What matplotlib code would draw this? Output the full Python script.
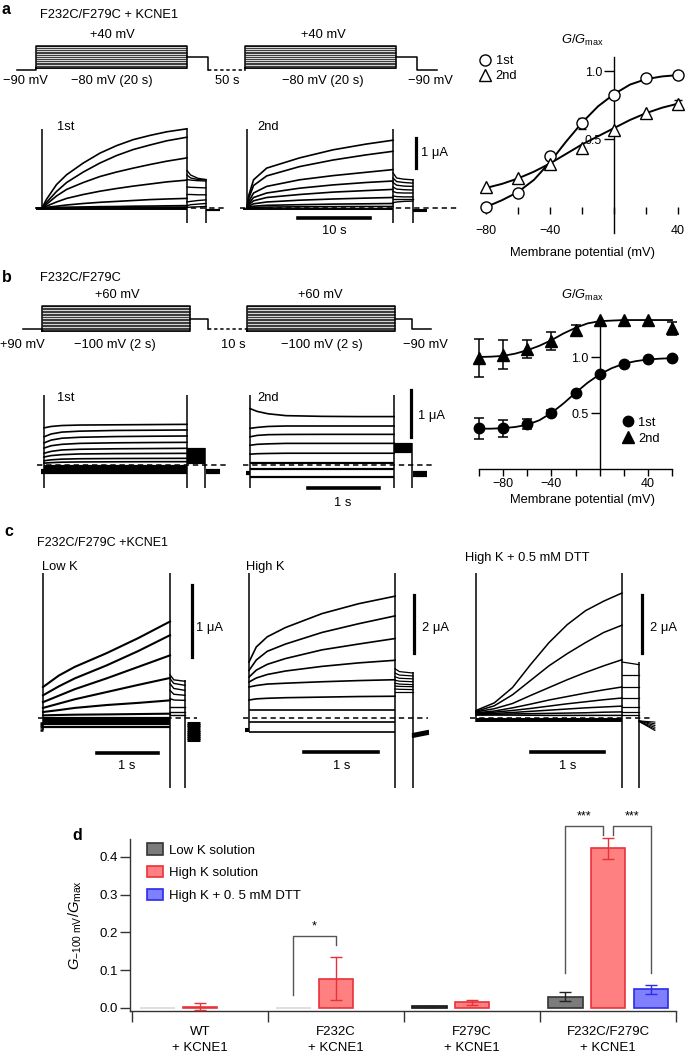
import numpy as np
import matplotlib
matplotlib.use("Agg")
import matplotlib.pyplot as plt
from matplotlib.lines import Line2D
from matplotlib.patches import Patch

plt.rcParams['font.family'] = ['Liberation Sans', 'DejaVu Sans']
plt.rcParams['mathtext.fontset'] = 'custom'
plt.rcParams['mathtext.rm'] = 'Liberation Sans'
plt.rcParams['mathtext.it'] = 'Liberation Sans:italic'
plt.rcParams['mathtext.bf'] = 'Liberation Sans:bold'
plt.rcParams['font.size'] = 9.3
plt.rcParams['axes.linewidth'] = 1.0

# ---------------- data ----------------
# voltage protocols (mV) and schematic segment times
prot_a_levels = [-80, -70, -60, -50, -40, -30, -20, -10, 0, 10, 20, 30, 40]
prot_a_hold, prot_a_tail = -90, -20
prot_a_times = [-2.5, 0, 20, 22.8, 27.7, 47.7, 50.5, 53.1]
prot_b_levels = [-100, -90, -80, -70, -60, -50, -40, -30, -20, -10, 0, 10, 20, 30, 40, 50, 60]
prot_b_hold, prot_b_tail = -90, -20
prot_b_times = [-0.25, 0, 2, 2.24, 2.77, 4.77, 5.0, 5.26]

# panel a currents (uA vs s)
ta1_t = [0, 0.6, 2, 3.4, 5.7, 8, 10.3, 12.6, 14.9, 17.2, 20]
ta1 = [
    [0, 0.28, 0.78, 1.11, 1.50, 1.83, 2.08, 2.28, 2.42, 2.54, 2.64],
    [0, 0.18, 0.55, 0.85, 1.20, 1.50, 1.75, 1.95, 2.10, 2.24, 2.36],
    [0, 0.12, 0.40, 0.62, 0.85, 1.05, 1.20, 1.33, 1.45, 1.56, 1.67],
    [0, 0.06, 0.20, 0.32, 0.45, 0.56, 0.65, 0.73, 0.80, 0.87, 0.93],
    [0, 0.02, 0.06, 0.10, 0.15, 0.19, 0.22, 0.25, 0.28, 0.30, 0.32],
    [0, 0.01, 0.02, 0.025, 0.035, 0.045, 0.05, 0.06, 0.065, 0.072, 0.08],
    [0, 0.0, 0.005, 0.01, 0.012, 0.015, 0.018, 0.02, 0.024, 0.027, 0.03],
]
ta1_flat = [-0.01, -0.03]
ta1_tail_t = [20, 20.5, 21.5, 22.6]
ta1_tail = [[1.25, 1.10, 0.99, 0.95], [1.10, 1.00, 0.95, 0.93], [0.95, 0.93, 0.91, 0.90],
            [0.70, 0.69, 0.68, 0.67], [0.45, 0.45, 0.44, 0.44], [0.20, 0.22, 0.25, 0.27],
            [0.08, 0.11, 0.13, 0.15], [0.02, 0.03, 0.04, 0.05]]
ta1_post = [-0.05, -0.08]
ta1_cap = ([0, 20, 22.6], [0, -0.5, -0.5], [2.63, 2.63, 0.97])

ta2_t = [0, 0.2, 0.9, 2.7, 7.2, 11.8, 16.3, 20]
ta2 = [
    [0, 0.39, 0.94, 1.33, 1.67, 1.94, 2.13, 2.26],
    [0, 0.30, 0.75, 1.07, 1.38, 1.60, 1.77, 1.89],
    [0, 0.20, 0.50, 0.72, 0.94, 1.08, 1.19, 1.28],
    [0, 0.14, 0.35, 0.50, 0.66, 0.77, 0.85, 0.90],
    [0, 0.10, 0.24, 0.35, 0.45, 0.53, 0.58, 0.62],
    [0, 0.06, 0.14, 0.20, 0.26, 0.30, 0.33, 0.35],
    [0, 0.03, 0.06, 0.09, 0.11, 0.13, 0.14, 0.15],
    [0, 0.01, 0.02, 0.03, 0.04, 0.045, 0.05, 0.05],
]
ta2_flat = [-0.02]
ta2_tail_t = [20, 20.5, 21.5, 22.7]
ta2_tail = [[1.17, 1.00, 0.96, 0.94], [1.00, 0.88, 0.85, 0.83], [0.85, 0.76, 0.73, 0.72],
            [0.70, 0.63, 0.61, 0.60], [0.55, 0.51, 0.50, 0.50], [0.40, 0.38, 0.37, 0.37],
            [0.30, 0.30, 0.30, 0.30], [0.18, 0.20, 0.22, 0.23]]
ta2_post = [-0.06, -0.10]
ta2_cap = ([0, 20, 22.7], [0, -0.5, -0.5], [2.63, 2.63, 0.97])

# panel a G/Gmax
ga_v = [-80, -60, -40, -20, 0, 20, 40]
ga_1st = [0.0, 0.105, 0.377, 0.615, 0.82, 0.95, 0.968]
ga_1st_err = [0, 0, 0.03, 0.04, 0, 0, 0]
ga_2nd = [0.15, 0.215, 0.316, 0.436, 0.566, 0.693, 0.755]
ga_2nd_err = [0, 0, 0, 0, 0, 0, 0.035]
ga_fit_v = [-80, -70, -60, -50, -40, -30, -20, -10, 0, 10, 20, 30, 40]
ga_fit_1st = [0.0, 0.05, 0.11, 0.20, 0.33, 0.48, 0.62, 0.74, 0.83, 0.90, 0.94, 0.96, 0.97]
ga_fit_2nd = [0.14, 0.17, 0.21, 0.26, 0.32, 0.39, 0.46, 0.52, 0.58, 0.64, 0.69, 0.73, 0.76]

# panel b currents
tb_t = [0, 0.1, 0.25, 0.5, 1.0, 1.5, 2.0]
tb1 = [
    [0.79, 0.82, 0.84, 0.85, 0.855, 0.86, 0.865],
    [0.60, 0.66, 0.70, 0.72, 0.735, 0.74, 0.745],
    [0.47, 0.53, 0.57, 0.59, 0.605, 0.612, 0.617],
    [0.36, 0.41, 0.44, 0.46, 0.472, 0.478, 0.482],
    [0.25, 0.29, 0.32, 0.335, 0.345, 0.35, 0.355],
    [0.17, 0.20, 0.22, 0.235, 0.242, 0.245, 0.248],
    [0.09, 0.11, 0.125, 0.133, 0.138, 0.14, 0.142],
    [0.04, 0.05, 0.06, 0.065, 0.068, 0.07, 0.071],
]
tb1_flat = [-0.02, -0.05, -0.08, -0.11, -0.14, -0.17]
tb1_tail = [0.35, 0.32, 0.29, 0.26, 0.23, 0.20, 0.17, 0.14, 0.11, 0.08, 0.05]
tb1_post = [-0.11, -0.14, -0.17]
tb1_cap = ([0, 2, 2.25], [-0.49, -0.49, -0.49], [1.49, 1.49, 0.355])

tb2 = [
    [1.20, 1.14, 1.09, 1.05, 1.035, 1.03, 1.03],
    [0.78, 0.80, 0.82, 0.83, 0.83, 0.83, 0.83],
    [0.60, 0.63, 0.645, 0.65, 0.652, 0.652, 0.652],
    [0.42, 0.44, 0.45, 0.46, 0.46, 0.46, 0.46],
    [0.23, 0.24, 0.245, 0.25, 0.25, 0.25, 0.25],
]
tb2_flat = [0.05, -0.085, -0.25]
tb2_tail = [0.45, 0.42, 0.39, 0.36, 0.33, 0.30, 0.27]
tb2_post = [-0.15, -0.19, -0.23]
tb2_cap = ([0, 2, 2.25], [-0.49, -0.49, -0.49], [1.49, 1.49, 0.46])

# panel b G/Gmax
gb_v = [-100, -80, -60, -40, -20, 0, 20, 40, 60]
gb_1st = [0.363, 0.363, 0.40, 0.50, 0.68, 0.845, 0.935, 0.98, 0.99]
gb_1st_err = [0.095, 0.075, 0.045, 0.03, 0, 0, 0, 0, 0]
gb_2nd = [0.995, 1.02, 1.07, 1.14, 1.24, 1.328, 1.33, 1.33, 1.256]
gb_2nd_err = [0.17, 0.13, 0.08, 0.08, 0.05, 0, 0, 0, 0.06]
gb_fit_v = [-100, -90, -80, -70, -60, -50, -40, -30, -20, -10, 0, 10, 20, 30, 40, 50, 60]
gb_fit_1st = [0.36, 0.36, 0.365, 0.375, 0.395, 0.435, 0.50, 0.585, 0.68, 0.77, 0.845,
              0.90, 0.94, 0.963, 0.978, 0.985, 0.99]
gb_fit_2nd = [1.0, 1.003, 1.01, 1.03, 1.06, 1.10, 1.15, 1.21, 1.26, 1.30, 1.32,
              1.325, 1.33, 1.33, 1.33, 1.33, 1.33]

# panel c currents
tc1_t = [0, 0.25, 0.5, 1.0, 1.5, 2.0]
tc1 = [
    [0.43, 0.59, 0.71, 0.90, 1.11, 1.34],
    [0.315, 0.44, 0.55, 0.73, 0.93, 1.15],
    [0.22, 0.31, 0.40, 0.55, 0.71, 0.87],
    [0.14, 0.20, 0.26, 0.36, 0.46, 0.556],
    [0.083, 0.11, 0.14, 0.18, 0.21, 0.245],
    [0.037, 0.042, 0.046, 0.05, 0.055, 0.06],
]
tc1_flat = [0.0, -0.03, -0.06, -0.09, -0.12]
tc1_tail_t = [2, 2.06, 2.236]
tc1_tail = [[0.60, 0.53, 0.51], [0.546, 0.48, 0.454], [0.477, 0.41, 0.384],
            [0.384, 0.33, 0.315], [0.27, 0.25, 0.245], [0.153, 0.153, 0.153],
            [0.083, 0.083, 0.083], [0.037, 0.037, 0.037]]
tc1_post = [-0.07, -0.10, -0.13, -0.16, -0.19, -0.22, -0.25, -0.28, -0.31]
tc1_cap = ([0, 2, 2.236], [-0.17, -0.97, -0.97], [2.01, 2.01, 0.53])

tc2_t = [0, 0.1, 0.25, 0.5, 1.0, 1.5, 2.0]
tc2 = [
    [1.93, 2.45, 2.80, 3.12, 3.60, 3.94, 4.20],
    [1.64, 2.00, 2.30, 2.55, 2.95, 3.25, 3.52],
    [1.41, 1.65, 1.85, 2.05, 2.35, 2.55, 2.74],
    [1.24, 1.38, 1.50, 1.62, 1.78, 1.90, 1.99],
    [1.07, 1.12, 1.17, 1.20, 1.25, 1.29, 1.32],
    [0.62, 0.66, 0.68, 0.70, 0.72, 0.74, 0.75],
]
tc2_flat = [0.28, -0.14, -0.48]
tc2_tail_t = [2, 2.06, 2.247]
tc2_tail = [[1.70, 1.60, 1.55], [1.55, 1.48, 1.45], [1.42, 1.37, 1.35], [1.30, 1.27, 1.25],
            [1.20, 1.17, 1.15], [1.10, 1.09, 1.08], [1.00, 0.99, 0.98], [0.90, 0.90, 0.90]]
tc2_post = [[-0.55, -0.45], [-0.60, -0.50], [-0.65, -0.55]]
tc2_cap = ([0, 2, 2.247], [-0.48, -2.41, -2.41], [5.0, 5.0, 1.59])

tc3_t = [0, 0.25, 0.5, 0.75, 1.0, 1.25, 1.5, 1.75, 2.0]
tc3 = [
    [0.26, 0.52, 1.05, 1.85, 2.60, 3.22, 3.70, 4.03, 4.31],
    [0.23, 0.42, 0.80, 1.30, 1.80, 2.22, 2.60, 2.95, 3.20],
    [0.21, 0.32, 0.50, 0.78, 1.05, 1.32, 1.57, 1.80, 2.01],
    [0.18, 0.24, 0.35, 0.48, 0.62, 0.74, 0.86, 0.97, 1.07],
    [0.16, 0.20, 0.26, 0.33, 0.41, 0.49, 0.56, 0.63, 0.69],
    [0.14, 0.16, 0.19, 0.23, 0.27, 0.31, 0.35, 0.38, 0.41],
    [0.12, 0.13, 0.14, 0.15, 0.16, 0.17, 0.18, 0.20, 0.21],
    [0.10, 0.10, 0.10, 0.095, 0.09, 0.09, 0.09, 0.09, 0.09],
]
tc3_flat = [-0.04, -0.07, -0.10]
tc3_tail_t = [2, 2.233]
tc3_tail = [[1.93, 1.84], [1.47, 1.47], [1.07, 1.07], [0.69, 0.69], [0.38, 0.38],
            [0.21, 0.21], [0.09, 0.09]]
tc3_post = [[-0.10, -0.14], [-0.10, -0.20], [-0.10, -0.26], [-0.12, -0.32],
            [-0.12, -0.38], [-0.12, -0.43]]
tc3_cap = ([0, 2, 2.233], [-0.14, -2.41, -2.41], [5.0, 5.0, 1.93])

# panel d
groups = ['WT\n+ KCNE1', 'F232C\n+ KCNE1', 'F279C\n+ KCNE1', 'F232C/F279C\n+ KCNE1']
lowk = [0.0, 0.0, 0.004, 0.030]
lowk_err = [0, 0, 0.002, 0.012]
highk = [0.003, 0.078, 0.015, 0.422]
highk_err = [0.009, 0.058, 0.006, 0.027]
dtt_group = [3]
dtt = [0.049]
dtt_err = [0.012]
series_names = ['Low K solution', 'High K solution', 'High K + 0. 5 mM DTT']

# ---------------- figure ----------------
W, H = 685, 1056
fig = plt.figure(figsize=(W / 100, H / 100), dpi=100)


def ftext(x, y, s, **kw):
    kw.setdefault('ha', 'left')
    kw.setdefault('va', 'center')
    fig.text(x / W, 1 - y / H, s, **kw)


def place(box, xmap, ymap, off=True):
    x0, y0, x1, y1 = box

    def conv(p, m):
        pa, va, pb, vb = m
        return va + (p - pa) * (vb - va) / (pb - pa)
    ax = fig.add_axes([x0 / W, 1 - y1 / H, (x1 - x0) / W, (y1 - y0) / H])
    ax.set_xlim(conv(x0, xmap), conv(x1, xmap))
    ax.set_ylim(conv(y1, ymap), conv(y0, ymap))
    if off:
        ax.axis('off')
    return ax


def draw_protocol(ax, tp, levels, hold, tail):
    t0, on1, off1, tl1, on2, off2, tl2, t_end = tp
    lo, hi = min(levels), max(levels)
    k = dict(color='k', lw=1.1)
    for a, b in [(on1, off1), (on2, off2)]:
        ax.fill_between([a, b], lo, hi, color='#d4d4d4', lw=0)
        ax.hlines(levels, a, b, color='#222222', lw=0.6)
        ax.plot([a, a, b, b, a], [lo, hi, hi, lo, lo], **k)
    ax.plot([t0, on1, on1], [hold, hold, lo], **k)
    ax.plot([off1, tl1, tl1], [tail, tail, hold], **k)
    ax.plot([tl1, on2], [hold, hold], color='k', lw=1.1, ls=(0, (2.2, 1.8)))
    ax.plot([on2, on2], [hold, lo], **k)
    ax.plot([off2, tl2, tl2, t_end], [tail, tail, hold, hold], **k)


def draw_traces(ax, t, traces, lw=1.2):
    for tr in traces:
        ax.plot(t, tr, color='k', lw=lw, solid_joinstyle='round')


def draw_cap(ax, cap, lw=1.1):
    ax.vlines(cap[0], cap[1], cap[2], color='k', lw=lw)


def zero_line(ax, t0, t1, lw=1.1):
    ax.plot([t0, t1], [0, 0], color='k', lw=lw, ls=(0, (3.5, 2.5)))


# ===== panel a =====
ftext(2, 10, 'a', fontweight='bold', fontsize=11.5)
ftext(40, 15, 'F232C/F279C + KCNE1')
axp = place((0, 25, 460, 95), (36, 0, 187, 20), (46, 40, 68, -80))
draw_protocol(axp, prot_a_times, prot_a_levels, prot_a_hold, prot_a_tail)
for x, s in [(112, '+40 mV'), (323, '+40 mV')]:
    ftext(x, 35, s, ha='center')
for x, s in [(25, '−90 mV'), (112, '−80 mV (20 s)'), (227, '50 s'),
             (323, '−80 mV (20 s)'), (430, '−90 mV')]:
    ftext(x, 81, s, ha='center')

ax = place((20, 120, 240, 240), (42, 0, 187, 20), (208, 0, 178, 1))
zero_line(ax, -1, 25.3)
draw_traces(ax, ta1_t, ta1)
ax.hlines(ta1_flat, -0.8, 20, color='k', lw=1.4)
draw_traces(ax, ta1_tail_t, ta1_tail, lw=1.0)
ax.hlines(ta1_post, 22.6, 24.5, color='k', lw=1.5)
draw_cap(ax, ta1_cap)
ftext(57, 127, '1st')

ax = place((235, 120, 460, 240), (247, 0, 393, 20), (208, 0, 178, 1))
zero_line(ax, -1, 29.2)
draw_traces(ax, ta2_t, ta2)
ax.hlines(ta2_flat, -0.6, 20, color='k', lw=1.4)
draw_traces(ax, ta2_tail_t, ta2_tail, lw=1.0)
ax.hlines(ta2_post, 22.7, 24.7, color='k', lw=1.5)
draw_cap(ax, ta2_cap)
ax.plot([23.15, 23.15], [1.33, 2.33], color='k', lw=2.3)
ax.plot([7.0, 16.9], [-0.33, -0.33], color='k', lw=2.6)
ftext(257, 127, '2nd')
ftext(421, 153, '1 μA')
ftext(334, 231, '10 s', ha='center')


def gv_axes(box, xmap, ymap):
    axg = place(box, xmap, ymap, off=False)
    axg.patch.set_visible(False)
    for s in ['top', 'right']:
        axg.spines[s].set_visible(False)
    axg.spines['left'].set_position(('data', 0))
    return axg


axg = gv_axes((479.6, 57, 682.8, 233), (486, -80, 678, 40), (207, 0, 71, 1))
axg.spines['bottom'].set_position(('data', 0))
axg.spines['bottom'].set_color('none')
axg.set_xticks([-80, -60, -40, -20, 0, 20, 40], ['−80', '', '−40', '', '', '', '40'])
axg.set_yticks([0.5, 1.0], ['0.5', '1.0'])
axg.tick_params(axis='x', length=5, width=1, pad=8, labelsize=9)
axg.tick_params(axis='y', length=7.5, width=1, pad=1, labelsize=9)
axg.plot(ga_fit_v, ga_fit_1st, color='k', lw=1.4, clip_on=False, zorder=2)
axg.plot(ga_fit_v, ga_fit_2nd, color='k', lw=1.4, clip_on=False, zorder=2)
for vals, err, mk in [(ga_1st, ga_1st_err, 'o'), (ga_2nd, ga_2nd_err, '^')]:
    idx = [i for i, e in enumerate(err) if e > 0]
    axg.errorbar([ga_v[i] for i in idx], [vals[i] for i in idx], yerr=[err[i] for i in idx],
                 fmt='none', ecolor='k', elinewidth=1, capsize=3, capthick=1, zorder=3, clip_on=False)
    axg.plot(ga_v, vals, ls='none', marker=mk, ms=8, mfc='white', mec='k', mew=1,
             zorder=4, clip_on=False)
hnd = [Line2D([], [], ls='none', marker='o', ms=8, mfc='white', mec='k', mew=1),
       Line2D([], [], ls='none', marker='^', ms=8, mfc='white', mec='k', mew=1)]
axg.legend(hnd, ['1st', '2nd'], loc='upper left', bbox_to_anchor=(0.0, 1.01), frameon=False,
           handlelength=0.9, handletextpad=0.35, labelspacing=0.22, borderpad=0,
           borderaxespad=0, fontsize=9.3)
ftext(582, 40, r'$G/G_{\mathrm{max}}$', ha='center')
ftext(582, 253, 'Membrane potential (mV)', ha='center')

# ===== panel b =====
ftext(2, 277, 'b', fontweight='bold', fontsize=11.5)
ftext(40, 278, 'F232C/F279C')
axp = place((0, 285, 460, 355), (42, 0, 190, 2), (306, 60, 331, -100))
draw_protocol(axp, prot_b_times, prot_b_levels, prot_b_hold, prot_b_tail)
for x, s in [(117, '+60 mV'), (320, '+60 mV')]:
    ftext(x, 295, s, ha='center')
for x, s in [(22, '+90 mV'), (115, '−100 mV (2 s)'), (233, '10 s'),
             (322, '−100 mV (2 s)'), (425, '−90 mV')]:
    ftext(x, 345, s, ha='center')

ax = place((25, 380, 240, 510), (44, 0, 187, 2), (465, 0, 418, 1))
zero_line(ax, -0.1, 2.55)
draw_traces(ax, tb_t, tb1)
ax.hlines(tb1_flat, 0, 2, color='k', lw=1.6)
ax.hlines(tb1_tail, 2, 2.25, color='k', lw=1.6)
ax.hlines(tb1_post, 2.27, 2.46, color='k', lw=1.6)
ax.hlines(tb1_post, -0.04, 0, color='k', lw=1.6)
draw_cap(ax, tb1_cap)
ftext(57, 398, '1st')

ax = place((236, 380, 460, 510), (250, 0, 394, 2), (465, 0, 418, 1))
zero_line(ax, -0.1, 2.53)
draw_traces(ax, tb_t, tb2)
ax.hlines(tb2_flat, 0, 2, color='k', lw=1.6)
ax.hlines(tb2_tail, 2, 2.25, color='k', lw=1.6)
ax.hlines(tb2_post, 2.26, 2.46, color='k', lw=1.6)
ax.hlines(tb2_post[:2], -0.05, 0, color='k', lw=1.6)
draw_cap(ax, tb2_cap)
ax.plot([2.236, 2.236], [0.6, 1.6], color='k', lw=2.3)
ax.plot([0.806, 1.79], [-0.49, -0.49], color='k', lw=2.6)
ftext(257, 398, '2nd')
ftext(418, 416, '1 μA')
ftext(343, 503, '1 s', ha='center')

axb = gv_axes((479, 317, 672, 469), (479, -100, 672, 60), (469, 0, 357, 1))
axb.set_xticks(gb_v, ['', '−80', '', '−40', '', '', '', '40', ''])
axb.set_yticks([0.5, 1.0], ['0.5', '1.0'])
axb.tick_params(axis='x', length=5, width=1, pad=1.5, labelsize=9)
axb.tick_params(axis='y', length=6.7, width=1, pad=1, labelsize=9)
axb.plot(gb_fit_v, gb_fit_1st, color='k', lw=1.3, clip_on=False, zorder=2)
axb.plot(gb_fit_v, gb_fit_2nd, color='k', lw=1.3, clip_on=False, zorder=2)
for vals, err, mk, ms in [(gb_1st, gb_1st_err, 'o', 7.5), (gb_2nd, gb_2nd_err, '^', 8)]:
    idx = [i for i, e in enumerate(err) if e > 0]
    axb.errorbar([gb_v[i] for i in idx], [vals[i] for i in idx], yerr=[err[i] for i in idx],
                 fmt='none', ecolor='k', elinewidth=1.1, capsize=3.5, capthick=1.1, zorder=3,
                 clip_on=False)
    axb.plot(gb_v, vals, ls='none', marker=mk, ms=ms, color='k', zorder=4, clip_on=False)
hnd = [Line2D([], [], ls='none', marker='o', ms=7.5, color='k'),
       Line2D([], [], ls='none', marker='^', ms=8, color='k')]
axb.legend(hnd, ['1st', '2nd'], loc='upper left', bbox_to_anchor=(0.741, 0.345), frameon=False,
           handlelength=0.9, handletextpad=0.35, labelspacing=0.3, borderpad=0,
           borderaxespad=0, fontsize=9.3)
ftext(582, 295, r'$G/G_{\mathrm{max}}$', ha='center')
ftext(582, 500, 'Membrane potential (mV)', ha='center')

# ===== panel c =====
ftext(4, 532, 'c', fontweight='bold', fontsize=11.5)
ftext(37, 543, 'F232C/F279C +KCNE1', fontsize=9)

ax = place((25, 570, 228, 800), (43, 0, 170, 2), (718, 0, 646, 1))
zero_line(ax, -0.08, 2.43)
draw_traces(ax, tc1_t, tc1, lw=1.5)
ax.hlines(tc1_flat, 0, 2, color='k', lw=1.6)
draw_traces(ax, tc1_tail_t, tc1_tail, lw=1.0)
ax.hlines(tc1_post, 2.27, 2.47, color='k', lw=2.2)
ax.hlines(tc1_post[:4], -0.05, 0, color='k', lw=1.8)
draw_cap(ax, tc1_cap)
ax.plot([2.346, 2.346], [0.85, 1.85], color='k', lw=2.3)
ax.plot([0.85, 1.81], [-0.486, -0.486], color='k', lw=2.6)
ftext(42, 567, 'Low K')
ftext(196, 628, '1 μA')
ftext(127, 766, '1 s', ha='center')

ax = place((230, 570, 452, 800), (249, 0, 395, 2), (718, 0, 689, 1))
zero_line(ax, -0.08, 2.45)
draw_traces(ax, tc2_t, tc2, lw=1.2)
ax.hlines(tc2_flat, 0, 2, color='k', lw=1.2)
draw_traces(ax, tc2_tail_t, tc2_tail, lw=0.9)
for tr in tc2_post:
    ax.plot([2.247, 2.45], tr, color='k', lw=1.6)
ax.hlines([-0.38, -0.45], -0.05, 0, color='k', lw=1.5)
draw_cap(ax, tc2_cap)
ax.plot([2.26, 2.26], [2.24, 4.24], color='k', lw=2.3)
ax.plot([0.753, 1.767], [-1.17, -1.17], color='k', lw=2.6)
ftext(246, 567, 'High K')
ftext(422, 628, '2 μA')
ftext(342, 766, '1 s', ha='center')

ax = place((455, 570, 685, 800), (476, 0, 622, 2), (718, 0, 689, 1))
zero_line(ax, -0.08, 2.42)
draw_traces(ax, tc3_t, tc3, lw=1.1)
ax.hlines(tc3_flat, 0, 2, color='k', lw=1.4)
draw_traces(ax, tc3_tail_t, tc3_tail, lw=0.9)
for tr in tc3_post:
    ax.plot([2.233, 2.45], tr, color='k', lw=0.8)
draw_cap(ax, tc3_cap)
ax.plot([2.274, 2.274], [2.24, 4.24], color='k', lw=2.3)
ax.plot([0.753, 1.753], [-1.17, -1.17], color='k', lw=2.6)
ftext(465, 558, 'High K + 0.5 mM DTT')
ftext(650, 628, '2 μA')
ftext(568, 766, '1 s', ha='center')

# ===== panel d =====
ftext(72, 835, 'd', fontweight='bold', fontsize=11.5)
axd = place((130, 839, 676, 1011), (200, 0, 336, 1), (1008, 0, 970.2, 0.1), off=False)
axd.patch.set_visible(False)
for s in ['top', 'right']:
    axd.spines[s].set_visible(False)
for s in ['left', 'bottom']:
    axd.spines[s].set_color('#333333')

xg = np.arange(len(groups))
off, bw = 0.316, 0.257
c_low, e_low = '#7b7b7b', '#333333'
c_high, e_high = '#ff8080', '#e8323a'
c_dtt, e_dtt = '#8080ff', '#2b2bea'
low_edges = ['#d9d9d9', '#d9d9d9', '#111111', e_low]
axd.bar(xg - off, lowk, bw, color=c_low, edgecolor=low_edges, lw=1.2, zorder=2)
axd.bar(xg, highk, bw, color=c_high, edgecolor=e_high, lw=1.2, zorder=2)
axd.bar(np.array(dtt_group) + off, dtt, bw, color=c_dtt, edgecolor=e_dtt, lw=1.2, zorder=2)
idx = [i for i, e in enumerate(lowk_err) if e > 0]
axd.errorbar(xg[idx] - off, [lowk[i] for i in idx], yerr=[lowk_err[i] for i in idx], fmt='none',
             ecolor='#222222', elinewidth=1, capsize=4, capthick=1, zorder=3)
axd.errorbar(xg, highk, yerr=highk_err, fmt='none', ecolor=e_high, elinewidth=1, capsize=4,
             capthick=1, zorder=3, clip_on=False)
axd.errorbar(np.array(dtt_group) + off, dtt, yerr=dtt_err, fmt='none', ecolor=e_dtt,
             elinewidth=1, capsize=4, capthick=1, zorder=3)

axd.set_yticks([0.0, 0.1, 0.2, 0.3, 0.4], ['0.0', '0.1', '0.2', '0.3', '0.4'])
axd.set_xticks([-0.5, 0.5, 1.5, 2.5, 3.5], [])
axd.set_xticks(xg, groups, minor=True)
axd.tick_params(axis='y', length=7, width=1, pad=2, labelsize=9.5, color='#333333')
axd.tick_params(axis='x', which='major', length=8, width=1, color='#333333')
axd.tick_params(axis='x', which='minor', length=0, pad=10.5, labelsize=9.5)
for lab in axd.get_xticklabels(minor=True):
    lab.set_linespacing(1.45)
axd.set_ylabel(r'$G_{\mathrm{-100\ mV}}/G_{\mathrm{max}}$', fontsize=10.5)
axd.yaxis.set_label_coords(-0.085, 0.5)

# significance brackets: (x_left, x_right, y_left, y_right, y_top, label)
brackets = [(1 - off, 1.0, 0.035, 0.166, 0.19, '*'),
            (3 - off, 3 - 0.037, 0.093, 0.458, 0.481, '***'),
            (3 + 0.037, 3 + off, 0.458, 0.093, 0.481, '***')]
for xl, xr, yl, yr, yt, lab in brackets:
    axd.plot([xl, xl, xr, xr], [yl, yt, yt, yr], color='#555555', lw=1, clip_on=False)
    axd.text((xl + xr) / 2, yt + 0.01, lab, ha='center', va='bottom', fontsize=9, clip_on=False)

hnd = [Patch(facecolor=c_low, edgecolor=e_low, lw=1.2),
       Patch(facecolor=c_high, edgecolor=e_high, lw=1.2),
       Patch(facecolor=c_dtt, edgecolor=e_dtt, lw=1.2)]
axd.legend(hnd, series_names, loc='upper left', bbox_to_anchor=(0.031, 0.975), frameon=False,
           handlelength=1.25, handleheight=0.95, handletextpad=0.45, labelspacing=0.72,
           borderpad=0, borderaxespad=0, fontsize=9.5)

fig.savefig('out.png', dpi=100)
